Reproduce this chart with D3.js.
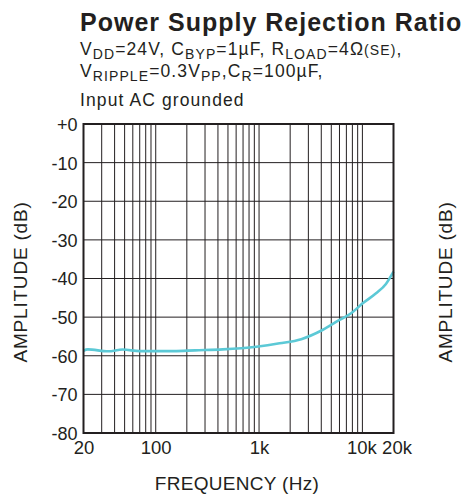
<!DOCTYPE html>
<html>
<head>
<meta charset="utf-8">
<script src="https://cdn.jsdelivr.net/npm/d3@7"></script>
<style>
  html, body { margin: 0; padding: 0; background: #fff; }
  svg { display: block; }
  text { font-family: "Liberation Sans", Arial, sans-serif; fill: #231f20; }
</style>
</head>
<body>
<svg id="chart" width="465" height="495"></svg>
<script>
// ---- data ----
const freqHz = [20, 22, 34.6, 48, 70, 150, 239, 445, 942, 1580, 2560, 4110, 6000, 7780, 10070, 13560, 16900, 20000];
const psrrDb = [-58.7, -58.35, -58.85, -58.4, -58.8, -58.8, -58.6, -58.35, -57.66, -56.78, -55.7, -53.33, -50.74, -49.0, -46.42, -43.83, -41.42, -38.24];
const yTickValues = [0, -10, -20, -30, -40, -50, -60, -70, -80];
const yTickLabels = ["+0", "-10", "-20", "-30", "-40", "-50", "-60", "-70", "-80"];
const xTickValues = [20, 100, 1000, 10000, 20000];
const xTickLabels = ["20", "100", "1k", "10k", "20k"];
const xGridValues = [30,40,50,60,70,80,90,100,200,300,400,500,600,700,800,900,1000,2000,3000,4000,5000,6000,7000,8000,9000,10000];

const svg = d3.select("#chart");
const L = 83.5, R = 393.5, T = 124, B = 433;
const x = d3.scaleLog().domain([20, 20000]).range([L, R]);
const y = d3.scaleLinear().domain([-80, 0]).range([B, T]);
const ink = "#231f20";

// title
svg.append("text").attr("x", 80).attr("y", 31)
  .attr("font-size", 25).attr("font-weight", "bold").attr("letter-spacing", 1)
  .text("Power Supply Rejection Ratio");

function richLine(yPos, parts) {
  const t = svg.append("text").attr("x", 80).attr("y", yPos)
    .attr("font-size", 17.5).attr("letter-spacing", 1.1);
  parts.forEach(p => {
    const ts = t.append("tspan").text(p[0]);
    if (p[1] === "sub") ts.attr("font-size", 14).attr("dy", 4);
    else if (p[1] === "back") ts.attr("dy", -4);
    if (p[2]) ts.attr("font-size", p[2]);
  });
}
richLine(55, [["V"], ["DD", "sub"], ["=24V, C", "back"], ["BYP", "sub"], ["=1µF, R", "back"], ["LOAD", "sub"], ["=4Ω", "back"], ["(SE)", null, 14], [","]]);
richLine(77, [["V"], ["RIPPLE", "sub"], ["=0.3V", "back"], ["PP", "sub"], [",C", "back"], ["R", "sub"], ["=100µF,", "back"]]);
richLine(106, [["Input AC grounded"]]);

// grid
const g = svg.append("g");
g.selectAll("line.vx").data(xGridValues).enter().append("line")
  .attr("x1", d => x(d)).attr("x2", d => x(d)).attr("y1", T).attr("y2", B)
  .attr("stroke", ink).attr("stroke-width", 1);
g.selectAll("line.hy").data(yTickValues).enter().append("line")
  .attr("x1", L).attr("x2", R).attr("y1", d => y(d)).attr("y2", d => y(d))
  .attr("stroke", ink).attr("stroke-width", 1);

// curve
const line = d3.line().x((d, i) => x(freqHz[i])).y(d => y(d)).curve(d3.curveMonotoneX);
svg.append("path").datum(psrrDb).attr("d", line)
  .attr("fill", "none").attr("stroke", "#5cc9d6").attr("stroke-width", 2.6);

// border
svg.append("rect").attr("x", L).attr("y", T).attr("width", R - L).attr("height", B - T)
  .attr("fill", "none").attr("stroke", ink).attr("stroke-width", 2);

// axes
const yAxis = d3.axisLeft(y).tickValues(yTickValues).tickSize(0).tickPadding(6)
  .tickFormat((d, i) => yTickLabels[i]);
const ya = svg.append("g").attr("transform", `translate(${L},0)`).call(yAxis);
ya.select(".domain").remove();
ya.selectAll("text").attr("font-size", 18).attr("font-family", null).attr("fill", ink).attr("dy", "0.36em");

const xAxis = d3.axisBottom(x).tickValues(xTickValues).tickSize(0).tickPadding(8)
  .tickFormat((d, i) => xTickLabels[i]);
const xa = svg.append("g").attr("transform", `translate(0,${B})`).call(xAxis);
xa.select(".domain").remove();
xa.selectAll("text").attr("font-size", 18.5).attr("font-family", null).attr("fill", ink)
  .attr("dx", (d, i) => i === xTickValues.length - 1 ? 3 : (i === xTickValues.length - 2 ? -1 : 0));

// axis titles
svg.append("text").attr("x", 237).attr("y", 490).attr("text-anchor", "middle")
  .attr("font-size", 19).attr("letter-spacing", 0.3).text("FREQUENCY (Hz)");
svg.append("text").attr("transform", "translate(27,282) rotate(-90)").attr("text-anchor", "middle")
  .attr("font-size", 19).attr("letter-spacing", 0.8).text("AMPLITUDE (dB)");
svg.append("text").attr("transform", "translate(452,282) rotate(-90)").attr("text-anchor", "middle")
  .attr("font-size", 19).attr("letter-spacing", 0.8).text("AMPLITUDE (dB)");
</script>
</body>
</html>
